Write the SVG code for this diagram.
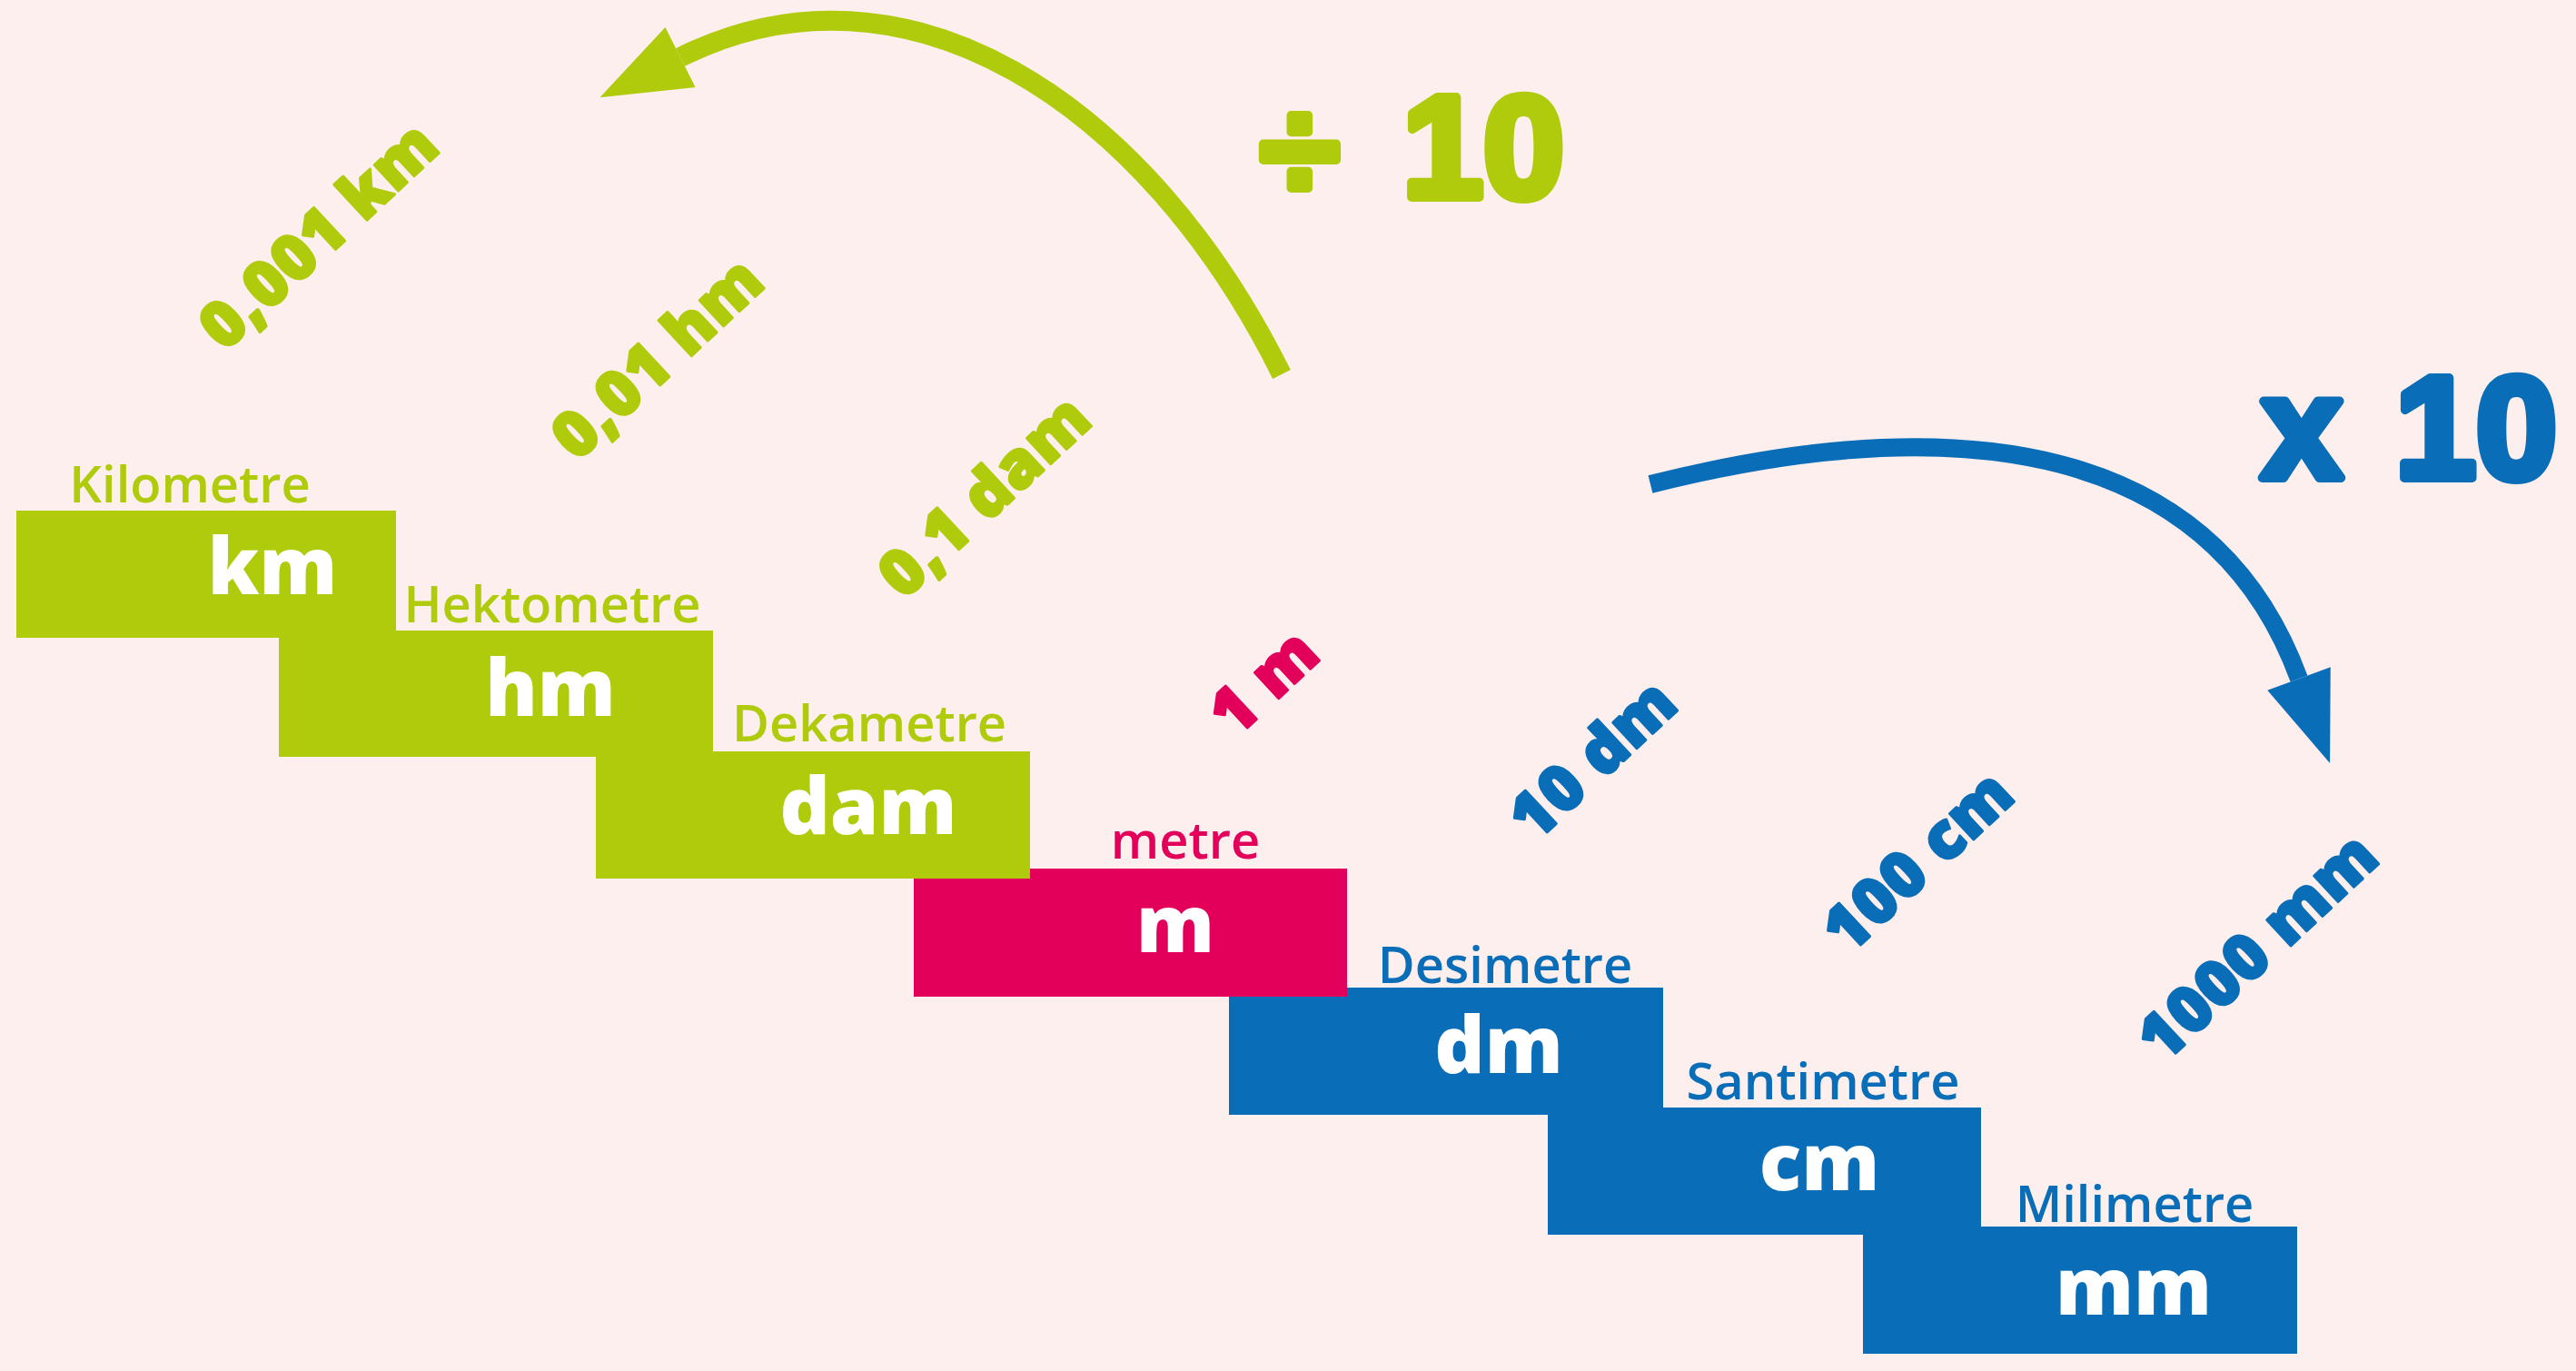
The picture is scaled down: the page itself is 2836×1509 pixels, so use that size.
<svg xmlns="http://www.w3.org/2000/svg" width="2836" height="1509" viewBox="0 0 2836 1509">
  <style>
    .green { fill: #b0cb0b; }
    .pink { fill: #e3005a; }
    .blue { fill: #0a6db7; }
    .name { font-family: "Open Sans", "Noto Sans", sans-serif; font-size: 56px; font-weight: 600; text-anchor: middle; }
    .unit { font-family: "Open Sans", "Noto Sans", sans-serif; font-size: 86px; font-weight: 800; fill: #ffffff; text-anchor: middle; }
    .equiv { font-family: "Open Sans", "Noto Sans", sans-serif; font-size: 70px; font-weight: 800; letter-spacing: 1px; text-anchor: middle; stroke-width: 3; stroke-linejoin: round; }
    .equiv.green { stroke: #b0cb0b; }
    .equiv.pink { stroke: #e3005a; }
    .equiv.blue { stroke: #0a6db7; }
    .factor { font-family: "Liberation Sans", Arial, sans-serif; font-size: 160px; font-weight: 700; stroke-width: 10; stroke-linejoin: round; }
    .arc { fill: none; stroke-linecap: butt; }
  </style>
  <defs>
    <marker id="head-green" viewBox="-2 -40 102 80" refX="0" refY="0" markerWidth="102" markerHeight="80" markerUnits="userSpaceOnUse" orient="auto">
      <path d="M0,-37 L99,0 L0,37 Z" fill="#b0cb0b"/>
    </marker>
    <marker id="head-blue" viewBox="-2 -40 102 80" refX="0" refY="0" markerWidth="102" markerHeight="80" markerUnits="userSpaceOnUse" orient="auto">
      <path d="M0,-37 L99,0 L0,37 Z" fill="#0a6db7"/>
    </marker>
  </defs>

  <rect width="2836" height="1509" fill="#fcefee"/>

  <!-- conversion arrows -->
  <g id="connectors">
    <path class="arc" d="M1411,412 C1261,110 995,-60 749,63" stroke="#b0cb0b" stroke-width="22" marker-end="url(#head-green)"/>
    <path class="arc" d="M1817,533 C2160,447 2436,488 2531,747" stroke="#0a6db7" stroke-width="20" marker-end="url(#head-blue)"/>
  </g>

  <!-- operation captions -->
  <g id="divide-caption">
    <text class="factor green" stroke="#b0cb0b"><tspan x="1431" y="220" text-anchor="middle">÷</tspan><tspan x="1633" y="217" text-anchor="middle">10</tspan></text>
  </g>
  <g id="multiply-caption">
    <text class="factor blue" stroke="#0a6db7"><tspan x="2534" y="526" text-anchor="middle">x</tspan><tspan x="2726" y="526" text-anchor="middle">10</tspan></text>
  </g>

  <!-- unit steps, drawn from the bottom up so each upper step sits on top -->
  <g id="node-mm">
    <rect class="blue" x="2051" y="1350" width="478" height="140"/>
    <text class="name blue" x="2350" y="1345">Milimetre</text>
    <text class="unit" x="2349" y="1447">mm</text>
  </g>
  <g id="node-cm">
    <rect class="blue" x="1704" y="1219" width="477" height="140"/>
    <text class="name blue" x="2007" y="1210">Santimetre</text>
    <text class="unit" x="2003" y="1310">cm</text>
  </g>
  <g id="node-dm">
    <rect class="blue" x="1353" y="1087" width="478" height="140"/>
    <text class="name blue" x="1657" y="1082">Desimetre</text>
    <text class="unit" x="1650" y="1181">dm</text>
  </g>
  <g id="node-m">
    <rect class="pink" x="1006" y="956" width="477" height="141"/>
    <text class="name pink" x="1305" y="945">metre</text>
    <text class="unit" x="1294" y="1048">m</text>
  </g>
  <g id="node-dam">
    <rect class="green" x="656" y="827" width="478" height="140"/>
    <text class="name green" x="957" y="816">Dekametre</text>
    <text class="unit" x="956" y="918">dam</text>
  </g>
  <g id="node-hm">
    <rect class="green" x="307" y="694" width="478" height="139"/>
    <text class="name green" x="608" y="685">Hektometre</text>
    <text class="unit" x="606" y="788">hm</text>
  </g>
  <g id="node-km">
    <rect class="green" x="18" y="562" width="418" height="140"/>
    <text class="name green" x="209" y="553">Kilometre</text>
    <text class="unit" x="300" y="654">km</text>
  </g>

  <!-- one metre expressed in each unit -->
  <g id="equivalents">
    <text class="equiv green" transform="translate(350 258) rotate(-43)" dy="0.36em">0,001 km</text>
    <text class="equiv green" transform="translate(723 393) rotate(-43)" dy="0.36em">0,01 hm</text>
    <text class="equiv green" transform="translate(1083 545) rotate(-43)" dy="0.36em">0,1 dam</text>
    <text class="equiv pink" transform="translate(1391 750) rotate(-43)" dy="0.36em">1 m</text>
    <text class="equiv blue" transform="translate(1753 835) rotate(-43)" dy="0.36em">10 dm</text>
    <text class="equiv blue" transform="translate(2111 947) rotate(-43)" dy="0.36em">100 cm</text>
    <text class="equiv blue" transform="translate(2485 1041) rotate(-43)" dy="0.36em">1000 mm</text>
  </g>
</svg>
